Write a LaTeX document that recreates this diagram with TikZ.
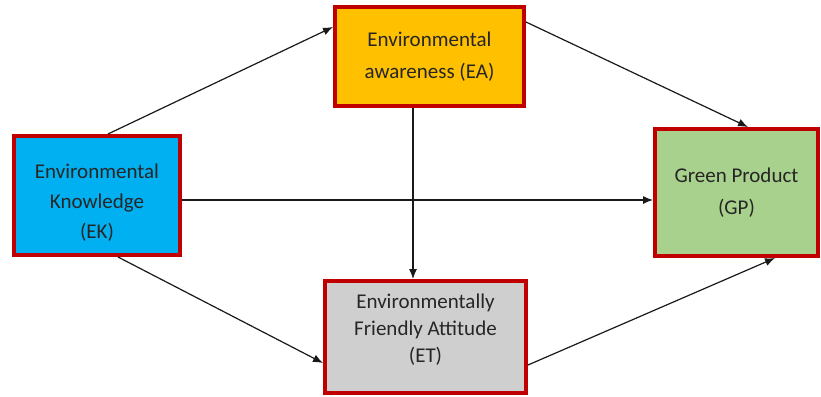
\documentclass[tikz,border=0pt]{standalone}
\usepackage{fontspec}
\setmainfont{Carlito}
\usepackage{tikz}
\usetikzlibrary{arrows,arrows.meta,positioning}
\usepackage{xcolor}
\definecolor{boxred}{HTML}{C00000}
\definecolor{eacol}{HTML}{FFC000}
\definecolor{ekcol}{HTML}{00B0F0}
\definecolor{gpcol}{HTML}{A9D18E}
\definecolor{etcol}{HTML}{CFCFCF}

\begin{document}
\begin{tikzpicture}[x=1pt, y=-1pt, thick]
\useasboundingbox (0,0) rectangle (821,396);
\tikzstyle{every node} = [rectangle, draw=boxred, line width=4pt, inner sep=0pt, align=center,
	text=black!85, font=\fontsize{21}{32}\selectfont]
\node[fill=eacol, minimum width=189pt, minimum height=99pt] (ea) at (429.5,56.5) {Environmental\\awareness (EA)};
\node[fill=ekcol, minimum width=166pt, minimum height=119pt] (ek) at (97,195.5) {};
\node[fill=gpcol, minimum width=163pt, minimum height=127pt] (gp) at (736.5,192.5) {Green Product\\(GP)};
\node[fill=etcol, minimum width=201pt, minimum height=112pt] (et) at (425.5,337) {};
% labels a bit off centre, as in the figure
\tikzstyle{every node} = [draw=none, inner sep=0pt, align=center, text=black!85]
\node[font=\fontsize{21}{30}\selectfont] (eklabel) at (97,202.5) {Environmental\\Knowledge\\(EK)};
\node[font=\fontsize{21}{27}\selectfont] (etlabel) at (425.5,330) {Environmentally\\Friendly Attitude\\(ET)};
\tikzstyle{every path} = [-{Latex[length=10pt,width=8pt]}, line width=1.2pt, black!90]
\draw ([xshift=11pt]ek.north) -- ([yshift=29.5pt]ea.west);
\draw ([yshift=34.5pt]ea.east) -- ([xshift=11.5pt]gp.north);
\draw ([yshift=-4.5pt]ek.east) -- ([yshift=-7.5pt]gp.west);
\draw ([xshift=-16.5pt]ea.south) -- ([xshift=-16.5pt]ea.south |- et.north);
\draw ([xshift=21pt]ek.south) -- ([yshift=-26pt]et.west);
\draw ([yshift=-28pt]et.east) -- ([xshift=38.5pt]gp.south);
\end{tikzpicture}
\end{document}
